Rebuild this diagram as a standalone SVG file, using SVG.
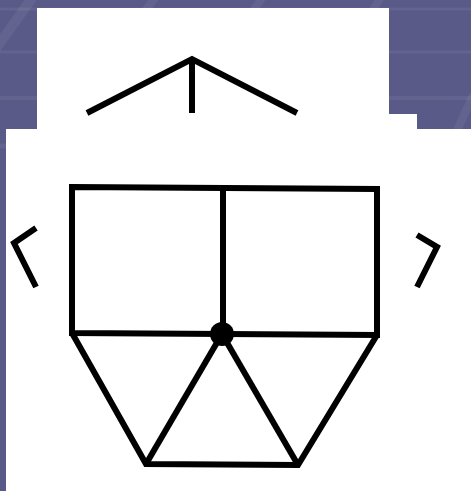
<svg xmlns="http://www.w3.org/2000/svg" width="471" height="491" viewBox="0 0 471 491">
  <defs>
    <style>
      .ink { fill: none; stroke: #000; stroke-width: 6; stroke-linejoin: miter; stroke-linecap: butt; }
      .streak { stroke: #ffffff; stroke-opacity: 0.06; fill: none; }
      .paper { fill: #ffffff; }
    </style>
  </defs>
  <g id="background">
    <rect x="0" y="0" width="471" height="491" fill="#5a5a89"/>
    <line class="streak" x1="0" y1="9" x2="471" y2="9" stroke-width="3"/>
    <line class="streak" x1="0" y1="52" x2="471" y2="52" stroke-width="3"/>
    <line class="streak" x1="0" y1="98" x2="471" y2="98" stroke-width="4"/>
    <line class="streak" x1="0" y1="146" x2="471" y2="146" stroke-width="5"/>
    <line class="streak" x1="-5" y1="50" x2="32" y2="-2" stroke-width="10"/>
    <line class="streak" x1="130" y1="30" x2="155" y2="-2" stroke-width="8"/>
    <line class="streak" x1="240" y1="30" x2="262" y2="-2" stroke-width="8"/>
    <line class="streak" x1="362" y1="30" x2="380" y2="-2" stroke-width="8"/>
    <line class="streak" x1="455" y1="135" x2="473" y2="95" stroke-width="8"/>
  </g>
  <g id="sheets">
    <rect class="paper" x="37" y="8" width="352" height="107"/>
    <rect class="paper" x="37" y="114" width="380" height="16"/>
    <rect class="paper" x="6" y="129" width="465" height="362"/>
  </g>
  <g id="roof">
    <polyline class="ink" points="87,113 192,59 297,113" stroke-width="5"/>
    <line class="ink" x1="192" y1="59" x2="192" y2="113" stroke-width="5"/>
  </g>
  <g id="side-marks">
    <polyline class="ink" points="36,228 14,243 36,287"/>
    <polyline class="ink" points="417,235 437,247 417,287"/>
  </g>
  <g id="house">
    <path class="ink" d="M72,187 L377,189 L377,335 L72,333 Z"/>
    <line class="ink" x1="223" y1="188" x2="223" y2="334"/>
    <polyline class="ink" points="72,333 146,464 298,465 377,335"/>
    <line class="ink" x1="222" y1="334" x2="146" y2="464"/>
    <line class="ink" x1="222" y1="334" x2="298" y2="465"/>
    <circle cx="222" cy="334" r="12" fill="#000"/>
  </g>
</svg>
